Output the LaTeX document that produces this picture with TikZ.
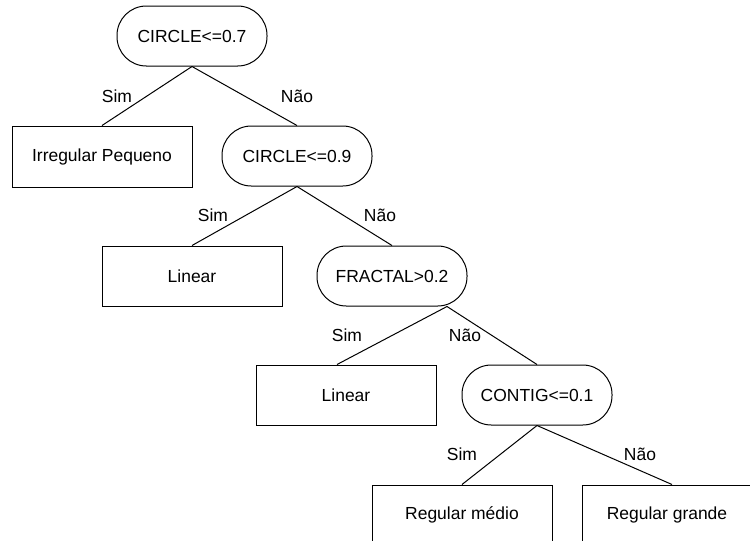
\documentclass[tikz,border=0pt]{standalone}
\usepackage{fontspec}
\setmainfont{Liberation Sans}
\usetikzlibrary{calc}
\begin{document}
\begin{tikzpicture}[x=0.75pt,y=-0.75pt,
  every node/.style={font=\fontsize{13.1}{15}\selectfont},
  cond/.style={draw,line width=0.75pt,rounded corners=22pt,minimum width=112.5pt,minimum height=45pt,inner sep=0pt},
  leaf/.style={draw,line width=0.75pt,minimum width=135pt,minimum height=45pt,inner sep=0pt},
  edge/.style={line width=0.75pt},
  lbl/.style={inner sep=0pt}]
\useasboundingbox (0,0) rectangle (750,540);
\clip (0,0) rectangle (750,540);
\node[cond] (n1) at (192,36) {CIRCLE<=0.7};
\node[leaf,minimum height=45.75pt] (b1) at (102,156.5) {Irregular Pequeno};
\node[cond] (n2) at (297,156) {CIRCLE<=0.9};
\node[leaf] (b2) at (192,276) {Linear};
\node[cond] (n3) at (392,276) {FRACTAL>0.2};
\node[leaf] (b3) at (346,395) {Linear};
\node[cond] (n4) at (537,395) {CONTIG<=0.1};
\node[leaf] (b4) at (462,515) {Regular médio};
\node[leaf] (b5) at (672,515) {};
\node[lbl] (t5) at (667,515) {Regular grande};
\draw[edge] (n1.south) -- (b1.north);
\draw[edge] (n1.south) -- (n2.north);
\draw[edge] (n2.south) -- (b2.north);
\draw[edge] (n2.south) -- (n3.north);
\draw[edge] ([xshift=41.25pt]n3.south) -- ([xshift=-6.75pt]b3.north);
\draw[edge] ([xshift=41.25pt]n3.south) -- (n4.north);
\draw[edge] (n4.south) -- (b4.north);
\draw[edge] (n4.south) -- (b5.north);
\node[lbl] (s1) at (117,96) {Sim};
\node[lbl] (m1) at (297,96) {Não};
\node[lbl] (s2) at (213,215) {Sim};
\node[lbl] (m2) at (380,215) {Não};
\node[lbl] (s3) at (347,335) {Sim};
\node[lbl] (m3) at (465,335) {Não};
\node[lbl] (s4) at (462,454) {Sim};
\node[lbl] (m4) at (640,454) {Não};
\end{tikzpicture}
\end{document}
